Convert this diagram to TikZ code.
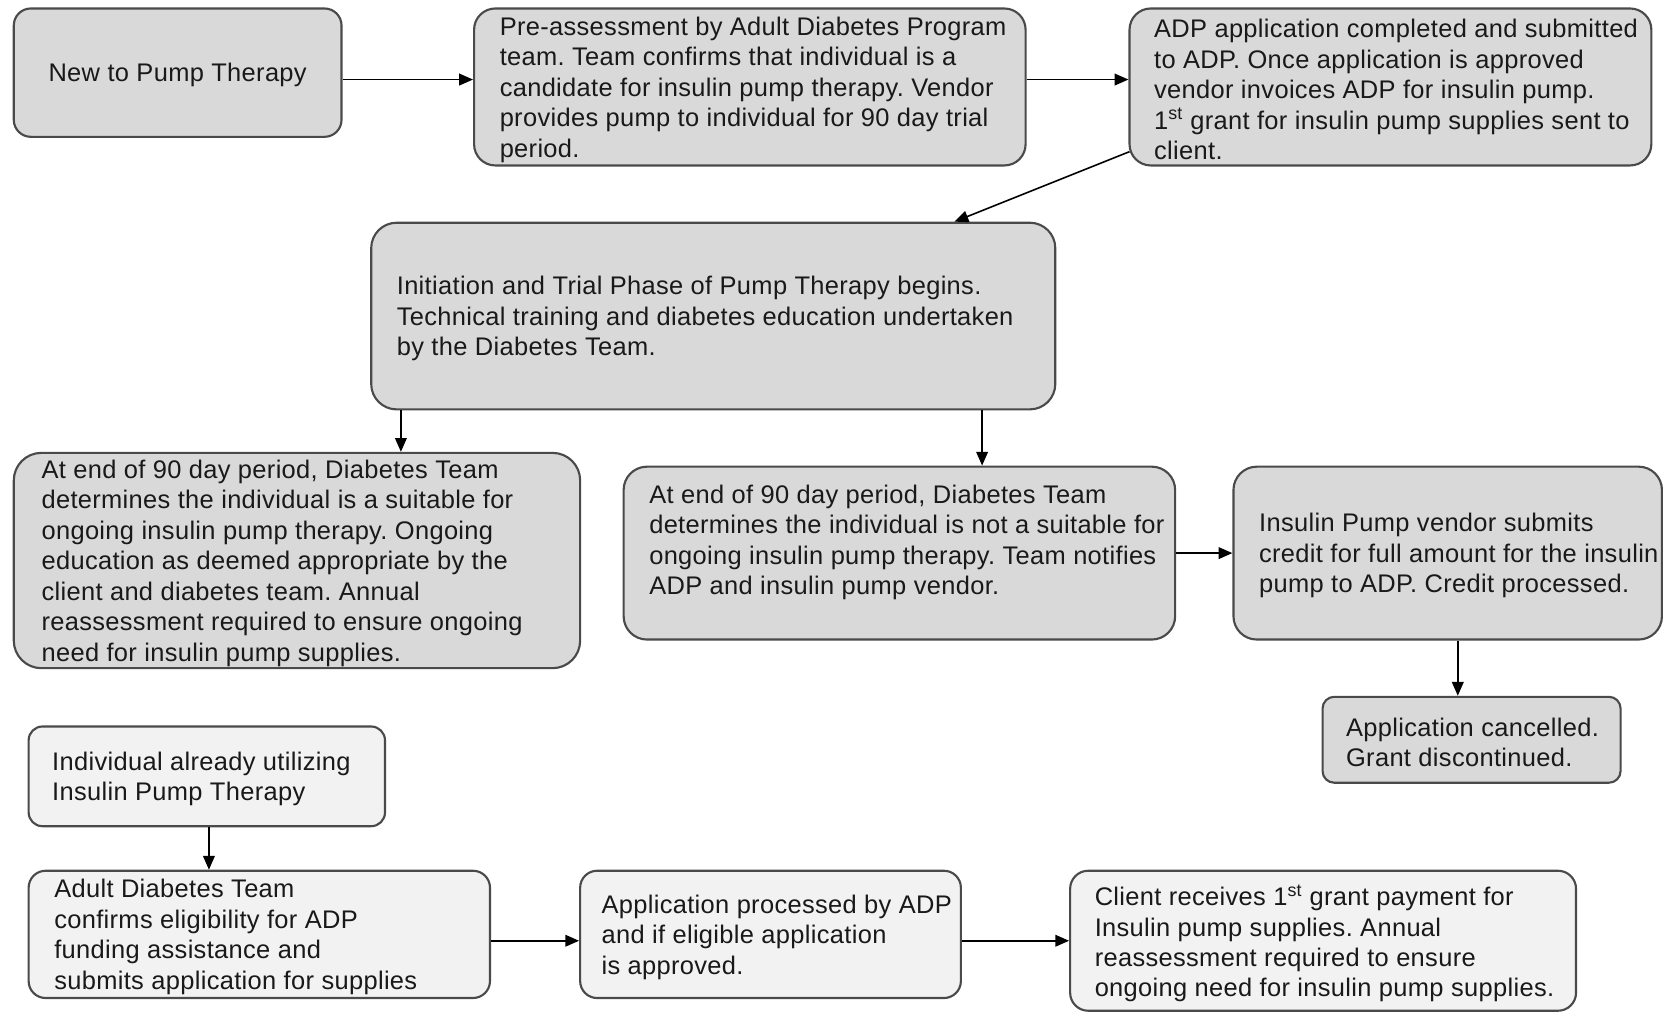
\documentclass[tikz,border=0pt]{standalone}
\usepackage{fontspec}
\setmainfont{Liberation Sans}[LetterSpace=1.3]
\usetikzlibrary{arrows.meta}
\definecolor{topfill}{HTML}{D9D9D9}
\definecolor{lowfill}{HTML}{F2F2F2}
\definecolor{edge}{HTML}{4A4A4A}
\frenchspacing
\tikzset{
  box/.style={draw=edge, line width=2pt, rectangle, inner sep=0pt},
  topbox/.style={box, fill=topfill},
  lowbox/.style={box, fill=lowfill},
  txt/.style={inner sep=0pt, yshift=-2.5pt, align=left, font=\fontsize{24pt}{28.7pt}\selectfont\frenchspacing, text=black!90},
  arr/.style={line width=1.5pt, -{Triangle[length=13pt,width=11pt]}}
}
\begin{document}
\begin{tikzpicture}[x=1pt,y=-1pt]
\fill[white] (0,0) rectangle (1568,955);
\useasboundingbox (0,0) rectangle (1568,955);

% boxes
\node[topbox, rounded corners=16pt, minimum width=309pt, minimum height=121pt] (b1) at (167.5,68.5) {};
\node[topbox, rounded corners=20pt, minimum width=520pt, minimum height=148pt] (b2) at (707,82) {};
\node[topbox, rounded corners=20pt, minimum width=492pt, minimum height=148pt] (b3) at (1311,82) {};
\node[topbox, rounded corners=24pt, minimum width=645pt, minimum height=176pt] (b4) at (672.5,298) {};
\node[topbox, rounded corners=26pt, minimum width=534pt, minimum height=203pt] (b5) at (280,528.5) {};
\node[topbox, rounded corners=22pt, minimum width=520pt, minimum height=163pt] (b6) at (848,521.5) {};
\node[topbox, rounded corners=22pt, minimum width=404pt, minimum height=163pt] (b7) at (1365,521.5) {};
\node[topbox, rounded corners=11pt, minimum width=281pt, minimum height=81pt] (b8) at (1387.5,697.5) {};
\node[lowbox, rounded corners=13pt, minimum width=336pt, minimum height=94pt] (b9) at (195,732) {};
\node[lowbox, rounded corners=16pt, minimum width=435pt, minimum height=120pt] (b10) at (244.5,881) {};
\node[lowbox, rounded corners=16pt, minimum width=359pt, minimum height=120pt] (b11) at (726.5,881) {};
\node[lowbox, rounded corners=17pt, minimum width=477pt, minimum height=132pt] (b12) at (1247.5,887) {};

% texts
\node[txt] (t1) at (b1) {New to Pump Therapy};
\node[txt, anchor=west] (t2) at ([xshift=25pt]b2.west) {Pre-assessment by Adult Diabetes Program\\team. Team confirms that individual is a\\candidate for insulin pump therapy. Vendor\\provides pump to individual for 90 day trial\\period.};
\node[txt, anchor=west] (t3) at ([xshift=24pt]b3.west) {ADP application completed and submitted\\to ADP. Once application is approved\\vendor invoices ADP for insulin pump.\\1\textsuperscript{st} grant for insulin pump supplies sent to\\client.};
\node[txt, anchor=west] (t4) at ([xshift=25pt]b4.west) {Initiation and Trial Phase of Pump Therapy begins.\\Technical training and diabetes education undertaken\\by the Diabetes Team.};
\node[txt, anchor=west] (t5) at ([xshift=27pt]b5.west) {At end of 90 day period, Diabetes Team\\determines the individual is a suitable for\\ongoing insulin pump therapy. Ongoing\\education as deemed appropriate by the\\client and diabetes team. Annual\\reassessment required to ensure ongoing\\need for insulin pump supplies.};
\node[txt, anchor=west] (t6) at ([xshift=25pt,yshift=12.5pt]b6.west) {At end of 90 day period, Diabetes Team\\determines the individual is not a suitable for\\ongoing insulin pump therapy. Team notifies\\ADP and insulin pump vendor.};
\node[txt, anchor=west] (t7) at ([xshift=25pt]b7.west) {Insulin Pump vendor submits\\credit for full amount for the insulin\\pump to ADP. Credit processed.};
\node[txt, anchor=west] (t8) at ([xshift=23pt]b8.west) {Application cancelled.\\Grant discontinued.};
\node[txt, anchor=west] (t9) at ([xshift=23pt]b9.west) {Individual already utilizing\\Insulin Pump Therapy};
\node[txt, anchor=west] (t10) at ([xshift=25pt]b10.west) {Adult Diabetes Team\\confirms eligibility for ADP\\funding assistance and\\submits application for supplies};
\node[txt, anchor=west] (t11) at ([xshift=21pt]b11.west) {Application processed by ADP\\and if eligible application\\is approved.};
\node[txt, anchor=west] (t12) at ([xshift=24pt]b12.west) {Client receives 1\textsuperscript{st} grant payment for\\Insulin pump supplies. Annual\\reassessment required to ensure\\ongoing need for insulin pump supplies.};

% connectors
\draw[arr] ([yshift=-6.5pt]b1.east) coordinate (a1) -- (a1 -| b2.west);
\draw[arr] ([yshift=7pt]b2.east) coordinate (a2) -- (a2 -| b3.west);
\draw[arr] ([yshift=-61pt,xshift=1pt]b3.west) -- ([xshift=227.5pt]b4.north);
\draw[arr] ([xshift=-294.5pt]b4.south) coordinate (a4) -- (a4 |- b5.north);
\draw[arr] ([xshift=253.5pt]b4.south) coordinate (a5) -- (a5 |- b6.north);
\draw[arr] (b6.east) -- (b6.east -| b7.west);
\draw[arr] ([xshift=9.5pt]b7.south) coordinate (a7) -- (a7 |- b8.north);
\draw[arr] ([xshift=2pt]b9.south) coordinate (a8) -- (a8 |- b10.north);
\draw[arr] ([yshift=-6pt]b10.east) coordinate (a9) -- (a9 -| b11.west);
\draw[arr] ([yshift=-6pt]b11.east) coordinate (a10) -- (a10 -| b12.west);
\end{tikzpicture}
\end{document}
